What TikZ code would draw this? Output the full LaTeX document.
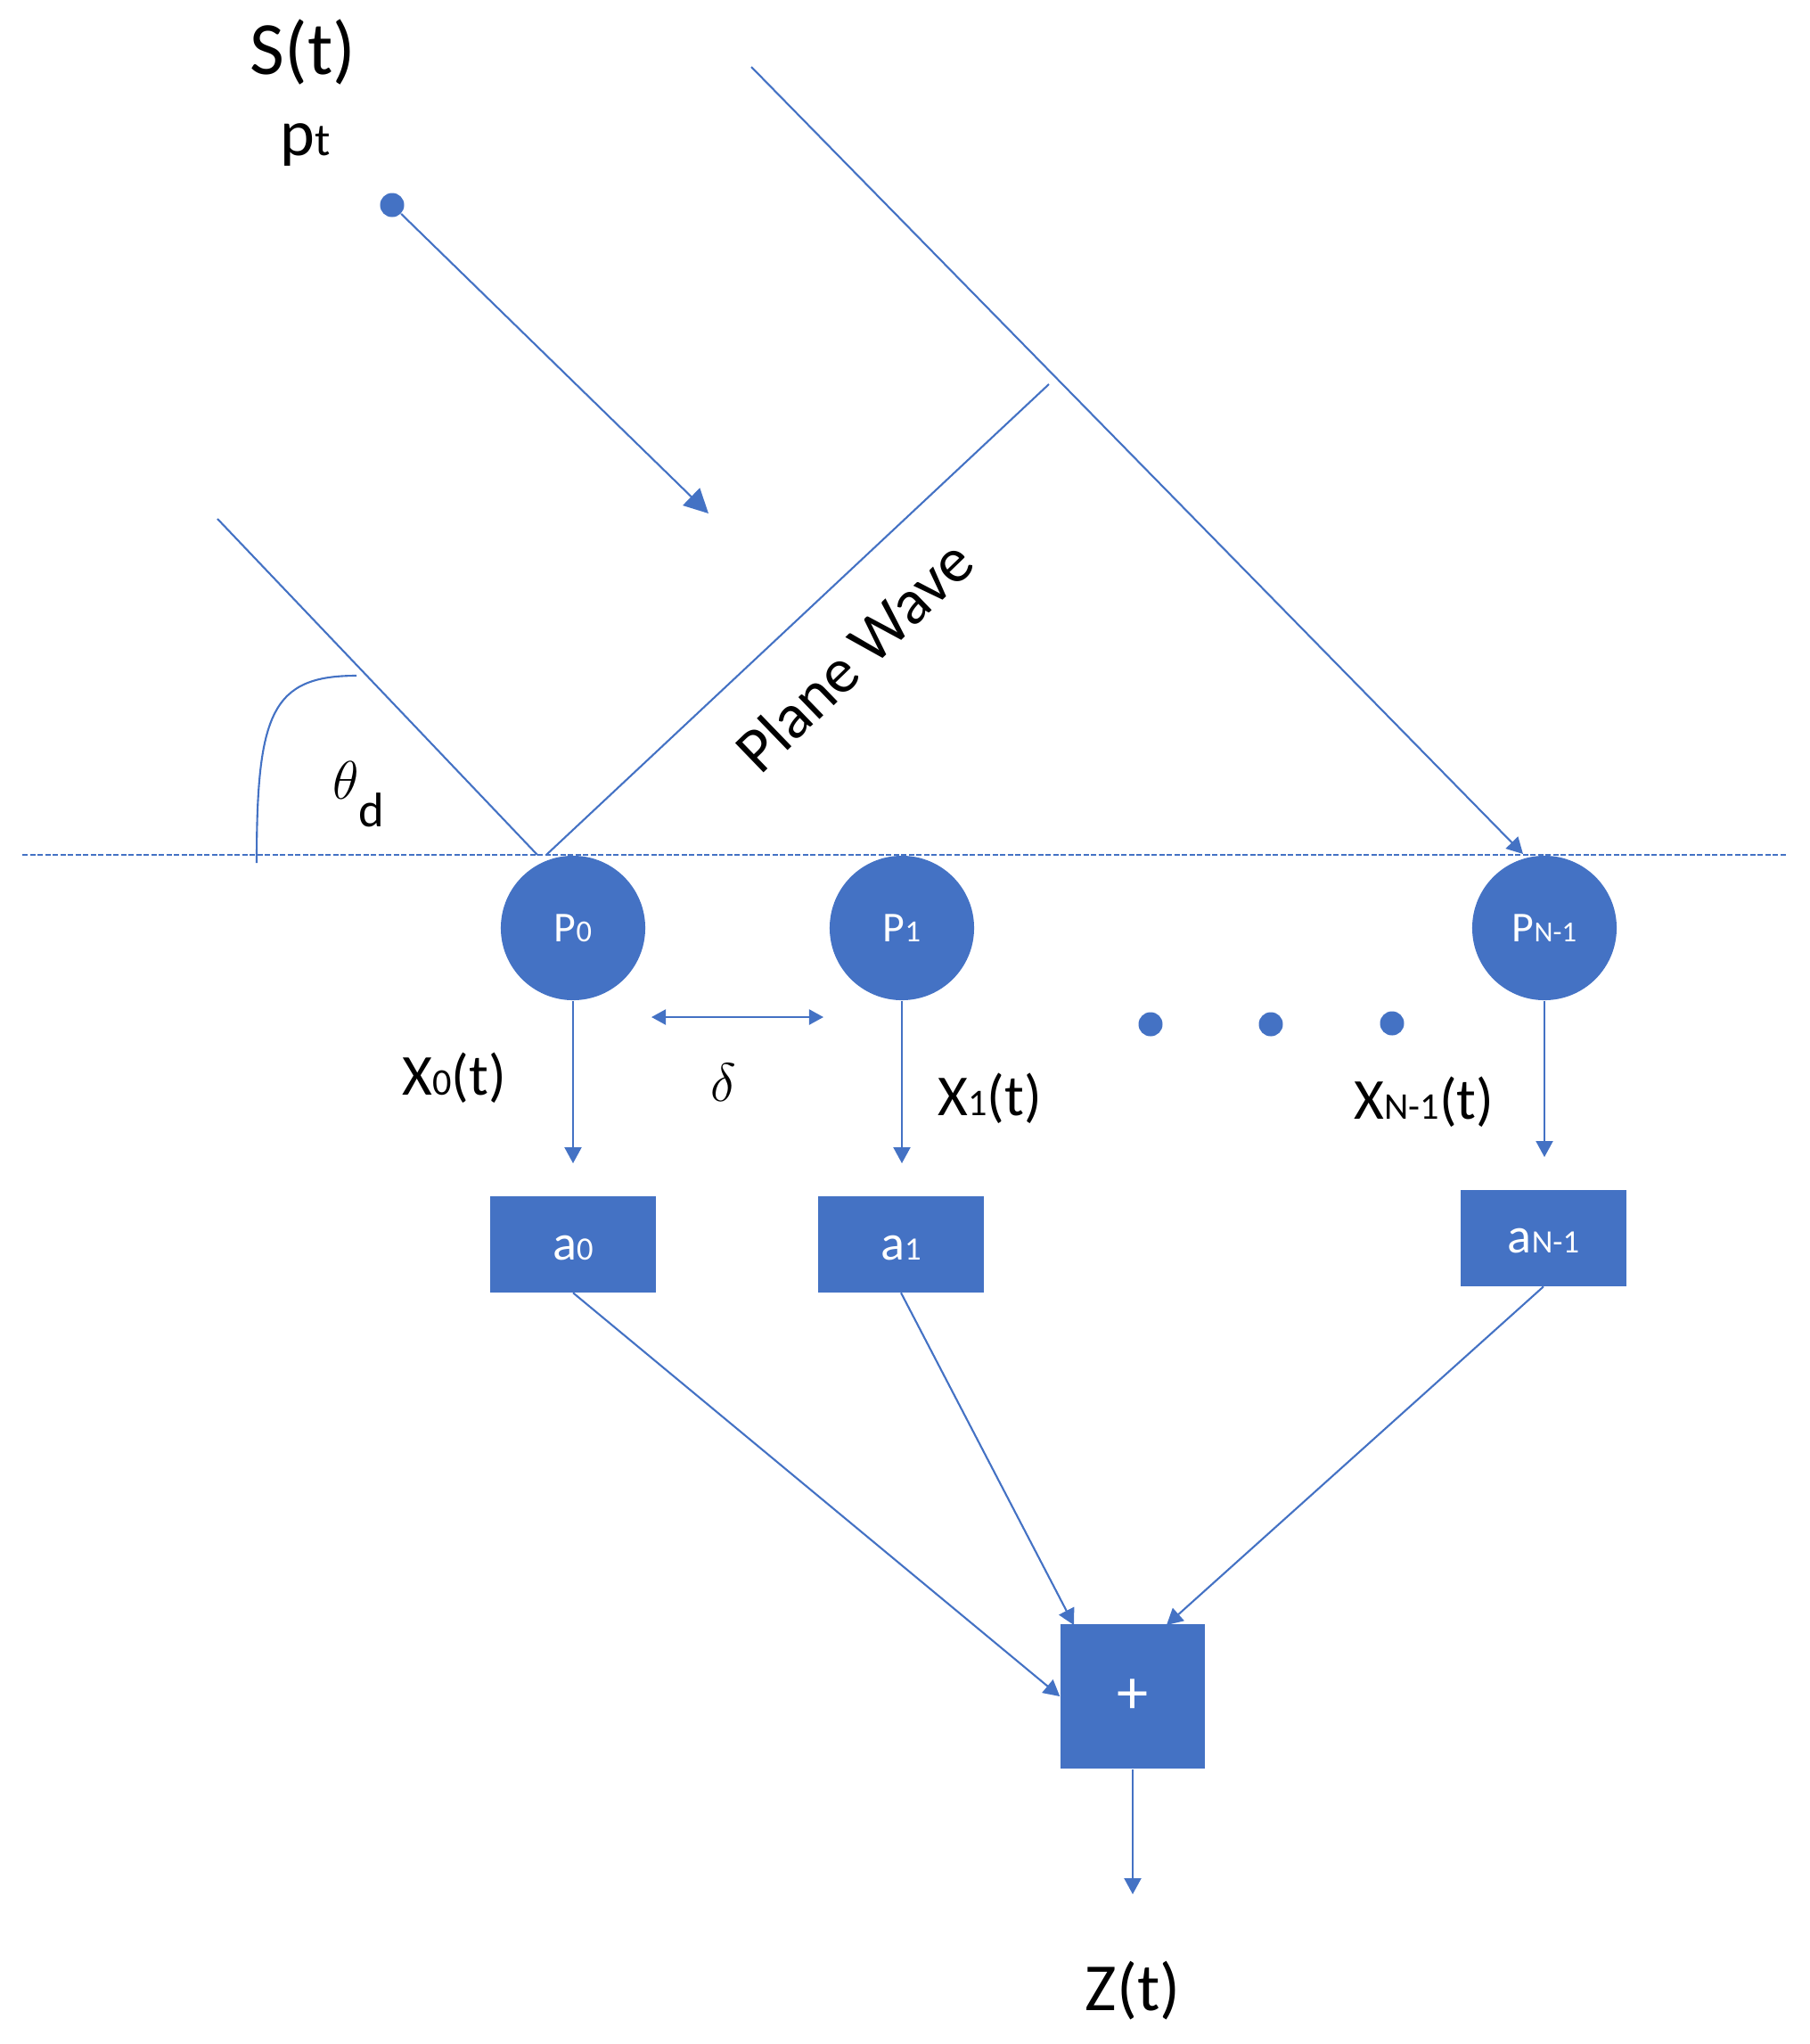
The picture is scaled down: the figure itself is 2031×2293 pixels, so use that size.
\documentclass[tikz,border=0pt]{standalone}
\usepackage{fontspec}
\usepackage{graphicx}
\setmainfont{Carlito}
\usetikzlibrary{arrows.meta,calc}
\definecolor{ofblue}{HTML}{4472C4}
\newcommand\fs[1]{\fontsize{#1}{#1}\selectfont}
\newcommand\lowr[1]{\scalebox{0.65}{#1}}
\begin{document}
\begin{tikzpicture}[x=0.01cm,y=-0.01cm,
  ln/.style={draw=ofblue,line width=0.6pt},
  arr/.style={ln,-{Triangle[width=0.19cm,length=0.18cm]}},
  bigarr/.style={ln,-{Triangle[width=0.27cm,length=0.27cm]}},
  dblarr/.style={ln,{Triangle[width=0.17cm,length=0.16cm]}-{Triangle[width=0.17cm,length=0.16cm]}},
  sensor/.style={circle,fill=ofblue,draw=none,minimum size=1.62cm,inner sep=0pt},
  weight/.style={rectangle,fill=ofblue,draw=none,minimum width=1.85cm,minimum height=1.07cm,inner sep=0pt},
  sumbox/.style={rectangle,fill=ofblue,draw=none,minimum size=1.62cm,inner sep=0pt},
  dotn/.style={circle,fill=ofblue,draw=none,minimum size=0.27cm,inner sep=0pt},
  lbl/.style={anchor=base,inner sep=0pt,text=black},
  wlbl/.style={anchor=base,inner sep=0pt,text=white}
]
\useasboundingbox (0,0) rectangle (2031,2293);

% dashed array axis
\coordinate (axl) at (25,959);
\coordinate (axr) at (2006,959);
\draw[draw=ofblue,line width=0.45pt,dash pattern=on 0.06cm off 0.025cm] (axl) -- (axr);

% sensors
\node[sensor] (p0) at (643,1041) {};
\node[sensor] (p1) at (1012,1041) {};
\node[sensor] (pn) at (1733,1041) {};
\node[wlbl] (p0l) at (643,1056) {\fs{13.6pt}P\scalebox{0.72}{0}};
\node[wlbl] (p1l) at (1012,1056) {\fs{13.6pt}P\scalebox{0.72}{1}};
\node[wlbl] (pnl) at (1733,1056) {\fs{13.6pt}P\scalebox{0.68}{N-1}};

% weights
\node[weight] (a0) at (643,1396) {};
\node[weight] (a1) at (1011,1396) {};
\node[weight] (an) at (1732,1389) {};
\node[wlbl] (a0l) at (643,1413) {\fs{16pt}a\lowr{0}};
\node[wlbl] (a1l) at (1011,1413) {\fs{16pt}a\lowr{1}};
\node[wlbl] (anl) at (1732,1405) {\fs{16pt}a\lowr{N-1}};

% summing box
\node[sumbox] (sum) at (1271,1903) {\color{white}\fs{20pt}+};

% source
\node[dotn] (src) at (440,230) {};
\coordinate (srctip) at (795,576);
\draw[bigarr] (src) -- (srctip);
\node[lbl] (st) at (340,83) {\fs{24pt}S(t)};
\node[lbl] (ptl) at (343,174) {\fs{21pt}p\scalebox{0.7}{t}};

% rays and wavefront
\coordinate (ra1) at (244,582);
\coordinate (ra2) at (603,959);
\draw[ln] (ra1) -- (ra2);
\coordinate (wf1) at (613,959);
\coordinate (wf2) at (1177,431);
\draw[ln] (wf1) -- (wf2);
\coordinate (rc1) at (843,75);
\coordinate (rc2) at (1709,958);
\draw[arr] (rc1) -- (rc2);
\node[inner sep=0pt,rotate=44,text=black] (pw) at (958,736) {\fs{20.3pt}Plane Wave};

% angle
\coordinate (ang1) at (288,968);
\coordinate (ang2) at (400,758);
\draw[ln] (ang1) .. controls (288,800) and (305,758) .. (ang2);
\node[inner sep=0pt] (th) at (388,875) {\fs{18pt}$\theta$};
\node[inner sep=0pt] (thd) at (417,909) {\fs{15.5pt}d};

% spacing
\coordinate (d1) at (731,1141);
\coordinate (d2) at (924,1141);
\draw[dblarr] (d1) -- (d2);
\node[inner sep=0pt] (del) at (812,1214) {\fs{17pt}$\delta$};

% dots
\node[dotn] (e1) at (1291,1149) {};
\node[dotn] (e2) at (1426,1149) {};
\node[dotn] (e3) at (1562,1148) {};

% sensor outputs
\coordinate (x0t) at (643,1305);
\coordinate (x1t) at (1012,1305);
\coordinate (xnt) at (1733,1298);
\draw[arr] (p0.south) -- (x0t);
\draw[arr] (p1.south) -- (x1t);
\draw[arr] (pn.south) -- (xnt);
\node[lbl] (x0l) at (510,1228) {\fs{18.5pt}X\lowr{0}(t)};
\node[lbl] (x1l) at (1111,1251) {\fs{18.5pt}X\lowr{1}(t)};
\node[lbl] (xnl) at (1598,1255) {\fs{18.5pt}X\lowr{N-1}(t)};

% to sum
\coordinate (s1) at (1205,1823);
\coordinate (s2) at (1309,1823);
\draw[arr] (a0.south) -- (sum.west);
\draw[arr] (a1.south) -- (s1);
\draw[arr] (an.south) -- (s2);

% output
\coordinate (zt) at (1271,2125);
\draw[arr] (sum.south) -- (zt);
\node[lbl] (zl) at (1271,2255) {\fs{21.5pt}Z(t)};
\end{tikzpicture}
\end{document}
